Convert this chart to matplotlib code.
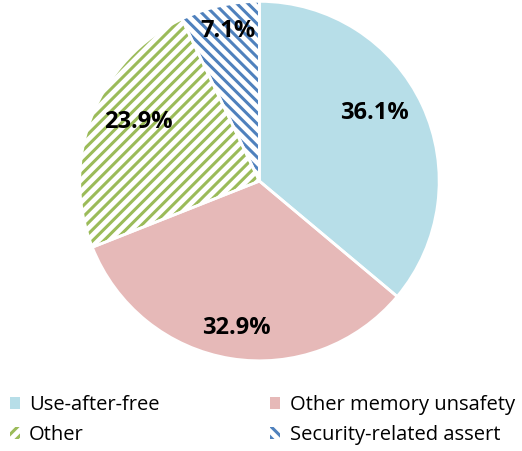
import matplotlib
matplotlib.use("Agg")
import matplotlib.pyplot as plt
import numpy as np

plt.rcParams['font.family'] = ['Open Sans', 'DejaVu Sans']
plt.rcParams['hatch.linewidth'] = 2.2

labels = ["Use-after-free", "Other memory unsafety", "Other", "Security-related assert"]
shares = [36.1, 32.9, 23.9, 7.1]
colors = ["#B7DEE8", "#E6B9B8", "#9BBB59", "#4F81BD"]
hatches = [None, None, "///", "\\\\\\"]
# label placement (like Excel's best fit)
label_dist = [0.745, 0.83, 0.75, 0.855]
label_shift = [5.4, 0.4, -4.4, -1.0]

fig = plt.figure(figsize=(5.22, 4.51), dpi=100)
ax = fig.add_axes([0.152, 0.2, 0.69, 0.797])

wedges, _ = ax.pie(shares, startangle=90, counterclock=False, radius=1,
                   wedgeprops=dict(linewidth=0))
for w, c, h in zip(wedges, colors, hatches):
    if h:
        w.set_facecolor("white")
        w.set_edgecolor(c)
        w.set_hatch(h)
    else:
        w.set_facecolor(c)
        w.set_edgecolor(c)

# white separators
outl, _ = ax.pie(shares, startangle=90, counterclock=False, radius=1,
                 wedgeprops=dict(fill=False, edgecolor="white", linewidth=2.0))

for w, s, d, sh in zip(wedges, shares, label_dist, label_shift):
    ang = np.deg2rad((w.theta1 + w.theta2) / 2 + sh)
    ax.text(d * np.cos(ang), d * np.sin(ang), f"{s:.1f}%", ha="center", va="center",
            fontsize=17, fontweight="bold")

ax.set_xlim(-1, 1)
ax.set_ylim(-1, 1)
ax.set_aspect("equal")
ax.axis("off")

order = [0, 2, 1, 3]
fig.legend([wedges[i] for i in order], [labels[i] for i in order], ncol=2,
           loc="lower left", bbox_to_anchor=(10 / 522, 6 / 451),
           frameon=False, fontsize=14.5, handlelength=0.5, handleheight=0.5,
           handletextpad=0.45, columnspacing=5.5, labelspacing=0.5,
           borderaxespad=0, borderpad=0)

fig.savefig("out.png", dpi=100)
